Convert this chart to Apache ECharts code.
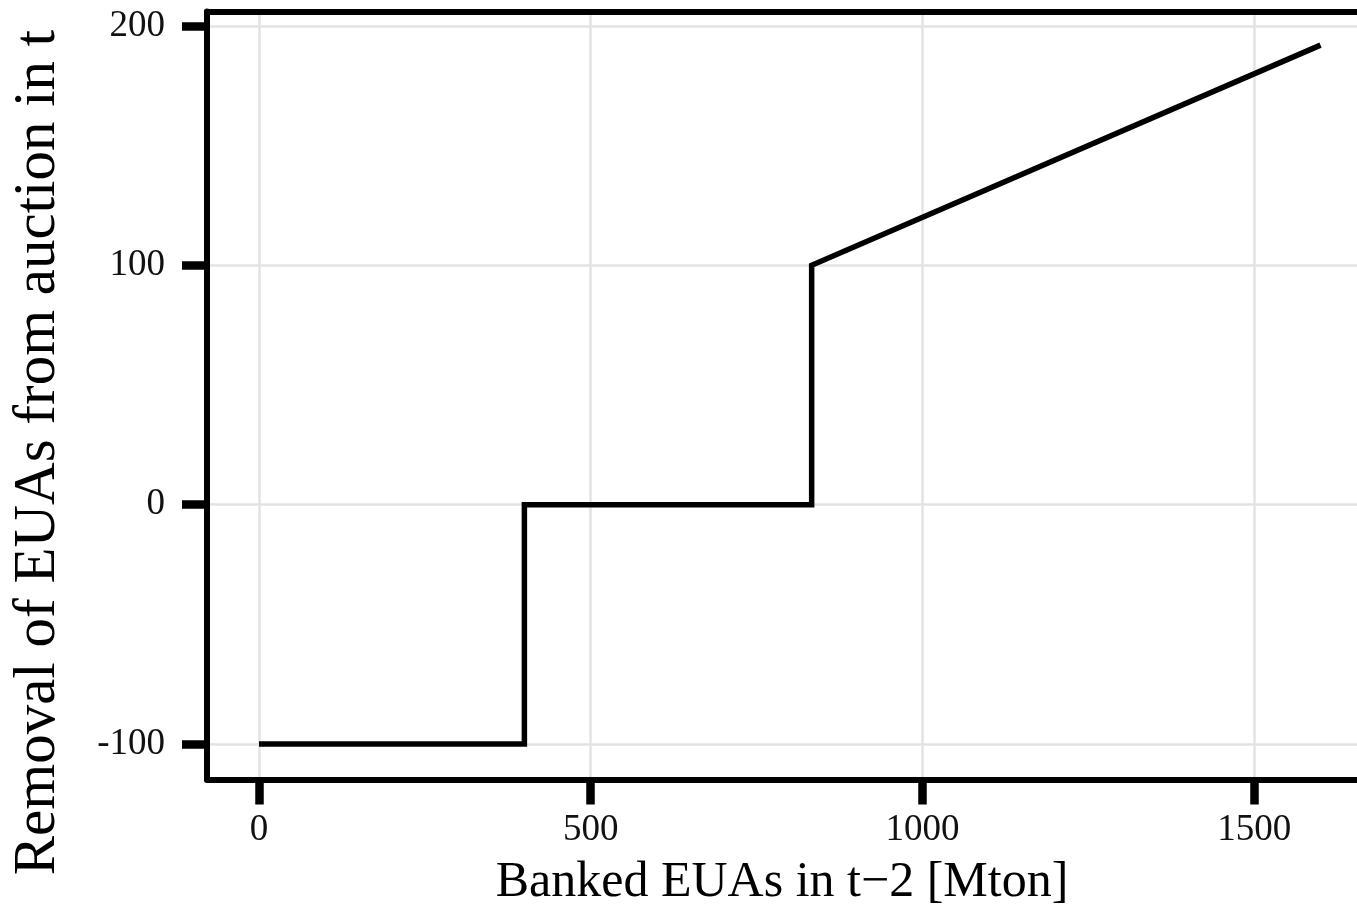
<!DOCTYPE html>
<html>
<head>
<meta charset="utf-8">
<title>EUA removal vs bank</title>
<script src="https://cdn.jsdelivr.net/npm/echarts@6/dist/echarts.min.js"></script>
<style>
  html, body { margin: 0; padding: 0; background: #fff; }
  #chart { width: 1357px; height: 908px; }
</style>
</head>
<body>
<div id="chart"></div>
<script>
// banked EUAs in t-2 (Mton) and removal from auction in t
var bankedEUAs = [0, 400, 400, 833, 833, 1600];
var removal = [-100, -100, 0, 0, 100, 192];

var xTicks = [0, 500, 1000, 1500];
var yTicks = [-100, 0, 100, 200];

var serif = 'Liberation Serif';
var xMin = -78.4, xMax = 1655;

var chart = echarts.init(document.getElementById('chart'));

var points = bankedEUAs.map(function (b, i) {
    return [b, removal[i]];
});

chart.setOption({
    animation: false,
    backgroundColor: '#fff',
    grid: {
        left: 207,
        right: 0,
        top: 11.5,
        bottom: 128.5,
        containLabel: false,
        outerBoundsMode: 'none'
    },
    xAxis: [{
        type: 'value',
        min: xMin,
        max: xMax,
        name: 'Banked EUAs in t\u22122 [Mton]',
        nameLocation: 'middle',
        nameGap: 78,
        nameTextStyle: { fontFamily: serif, fontSize: 50, color: '#000' },
        axisLine: { show: true, onZero: false, lineStyle: { color: '#000', width: 6 } },
        axisTick: {
            show: true,
            customValues: xTicks,
            length: 25,
            lineStyle: { color: '#000', width: 8.5 }
        },
        axisLabel: {
            customValues: xTicks,
            margin: 32,
            fontFamily: serif,
            fontSize: 37,
            color: '#111',
            formatter: function (v) { return String(v); }
        },
        splitLine: { show: true, lineStyle: { color: '#e3e3e3', width: 2.5 } }
    }, {
        // top border of the panel
        type: 'value',
        position: 'top',
        min: xMin,
        max: xMax,
        axisLine: { show: true, onZero: false, lineStyle: { color: '#000', width: 6 } },
        axisTick: { show: false },
        axisLabel: { show: false },
        splitLine: { show: false }
    }],
    yAxis: {
        type: 'value',
        min: -114.8,
        max: 206.05,
        name: 'Removal of EUAs from auction in t',
        nameLocation: 'middle',
        nameGap: 139,
        nameRotate: 90,
        nameTextStyle: {
            fontFamily: serif,
            fontSize: 59,
            color: '#000',
            padding: [0, 114, 0, 0]
        },
        axisLine: { show: true, onZero: false, lineStyle: { color: '#000', width: 6 } },
        axisTick: {
            show: true,
            customValues: yTicks,
            length: 25,
            lineStyle: { color: '#000', width: 8.5 }
        },
        axisLabel: {
            customValues: yTicks,
            margin: 42,
            fontFamily: serif,
            fontSize: 37,
            color: '#111',
            formatter: function (v) { return v < 0 ? '-' + Math.abs(v) : String(v); }
        },
        splitLine: { show: true, lineStyle: { color: '#e3e3e3', width: 2.5 } }
    },
    series: [{
        type: 'line',
        data: points,
        showSymbol: false,
        symbol: 'none',
        lineStyle: { color: '#000', width: 5.5, join: 'miter', cap: 'butt' },
        z: 3
    }]
});
</script>
</body>
</html>
